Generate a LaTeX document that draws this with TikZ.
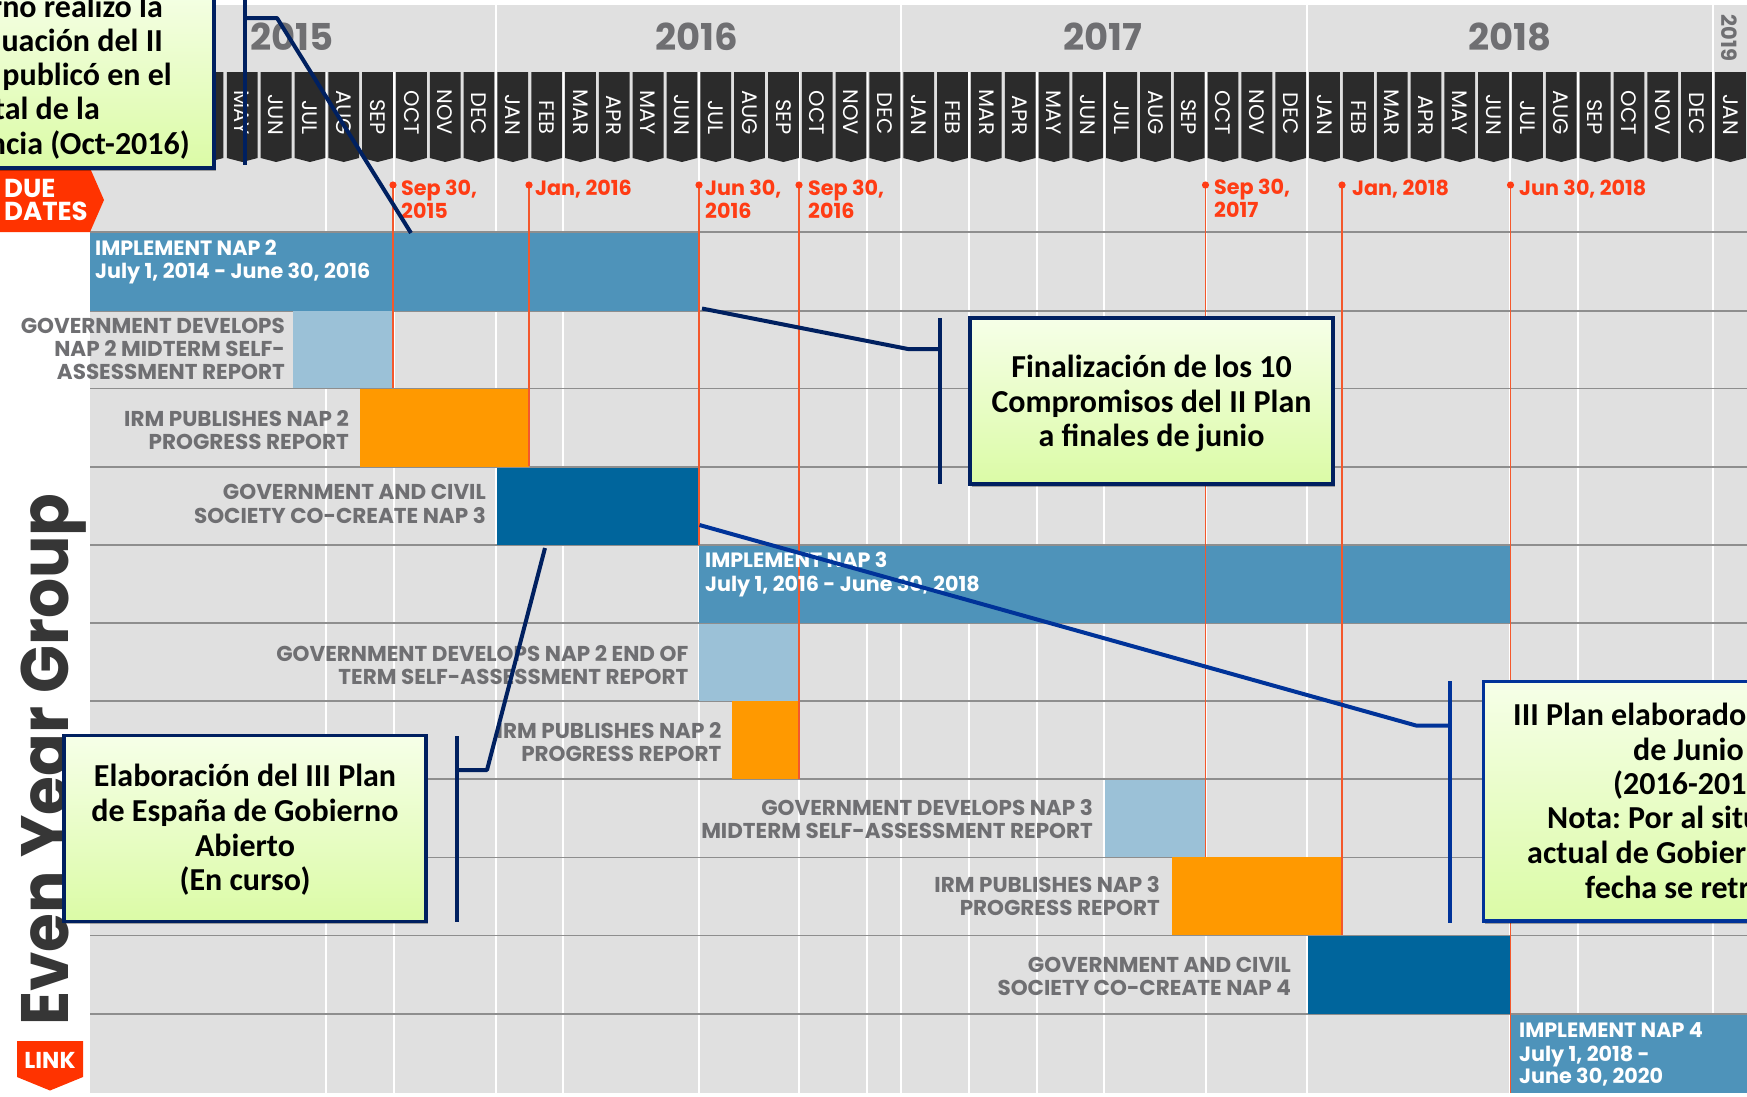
\documentclass[tikz,border=0pt]{standalone}
\usepackage{fontspec}
\setmainfont{Poppins}
\newfontfamily\calfont{Carlito}
\newfontfamily\sidefont[FakeStretch=0.94]{Poppins}
\usetikzlibrary{shadows}
\definecolor{bggrey}{HTML}{E0E0E0}
\definecolor{rowline}{HTML}{8E8E8E}
\definecolor{midblue}{HTML}{4E93BA}
\definecolor{lightblue}{HTML}{9BC1D7}
\definecolor{darkblue}{HTML}{00659C}
\definecolor{orangebar}{HTML}{FF9900}
\definecolor{redline}{HTML}{F4582C}
\definecolor{redtext}{HTML}{FF3C14}
\definecolor{tagred}{HTML}{FF3300}
\definecolor{labelgrey}{HTML}{6F6F72}
\definecolor{tabdark}{HTML}{2B2B2B}
\definecolor{navy}{HTML}{002060}
\definecolor{royal}{HTML}{003399}
\definecolor{greentop}{HTML}{F6FFE8}
\definecolor{greenbot}{HTML}{DBFBA6}
\tikzset{
  lab/.style={anchor=base east,yshift=-7.5pt,inner sep=0pt,text=labelgrey,font=\fontsize{21.5}{24}\selectfont\bfseries},
  barlab/.style={anchor=base west,yshift=-7.3pt,inner sep=0pt,text=white,font=\fontsize{20.7}{24}\selectfont\bfseries},
  duelab/.style={anchor=base west,yshift=-7.2pt,inner sep=0pt,text=redtext,font=\fontsize{20.7}{24}\selectfont\bfseries},
  yearlab/.style={inner sep=0pt,text=labelgrey,font=\fontsize{37}{40}\selectfont\bfseries},
  monthlab/.style={rotate=-90,anchor=east,inner sep=0pt,text=white,font=\fontsize{21}{22}\selectfont},
  gbox/.style={draw=navy,line width=3.5pt,top color=greentop,bottom color=greenbot,inner sep=0pt,anchor=north west,
    drop shadow={shadow xshift=2pt,shadow yshift=-3pt,opacity=.3,fill=black}},
  boxtext/.style={anchor=base,yshift=-10pt,inner sep=0pt,text=black,font=\calfont\fontsize{32}{35}\selectfont\bfseries\frenchspacing},
  conn/.style={line width=4pt,color=navy},
  connb/.style={line width=4pt,color=royal},
  redl/.style={line width=1.8pt,color=redline},
}
\newcommand{\tabm}[1]{\fill[tabdark] (#1-15.4,72) -- (#1+15.4,72) -- (#1+15.4,158) -- (#1,162) -- (#1-15.4,158) -- cycle;}
\newcommand{\monthtab}[3]{\tabm{#2}\node[monthlab] (#3) at (#2,135) {#1};}
\begin{document}
\begin{tikzpicture}[x=1pt,y=-1pt]
\useasboundingbox (0,0) rectangle (1747,1096);
\clip (0,0) rectangle (1747,1096);
\fill[white] (0,0) rectangle (1747,1096);
\fill[bggrey] (90,5) rectangle (1747,1093);
% vertical white rules
\foreach \x in {496,901,1307,1713} \draw[white,line width=1.6pt] (\x,5) -- (\x,1093);
\foreach \x in {326,394,563,699,799,867,969,1037,1104,1206,1510,1578} \draw[white,line width=1.6pt] (\x,72) -- (\x,1093);
% row rules
\foreach \y in {232,311,388.5,467,545,623,701,779,857.5,935.5,1014} \draw[rowline,line width=1.2pt] (90,\y) -- (1747,\y);
% bars
\fill[midblue] (90,232.5) rectangle (699,310.5);
\fill[lightblue] (292.5,311) rectangle (393,388);
\fill[orangebar] (360,389) rectangle (529,466.5);
\fill[darkblue] (497,467.5) rectangle (699,545);
\fill[midblue] (699,545.5) rectangle (1511,623);
\fill[lightblue] (699,623.5) rectangle (799,701);
\fill[orangebar] (732,701) rectangle (800,779);
\fill[lightblue] (1105,779.5) rectangle (1205.5,857);
\fill[orangebar] (1172,857) rectangle (1342,935);
\fill[darkblue] (1308,936) rectangle (1510,1014);
\fill[midblue] (1511,1014.5) rectangle (1747,1093);
% red due-date lines
\foreach \x/\b in {393/388,529/466,699/545,799/779,1205.5/857,1342/935,1510.5/1093}{
  \draw[redl] (\x,185) -- (\x,\b);
  \fill[redtext] (\x,185) circle (3.6pt);
}
% due-date labels
\node[duelab] (d1a) at (401,188) {Sep 30,};
\node[duelab] (d1b) at (401,211) {2015};
\node[duelab] (d2) at (535,188) {Jan, 2016};
\node[duelab] (d3a) at (705,188) {Jun 30,};
\node[duelab] (d3b) at (705,211) {2016};
\node[duelab] (d4a) at (808,188) {Sep 30,};
\node[duelab] (d4b) at (808,211) {2016};
\node[duelab] (d5a) at (1214,187) {Sep 30,};
\node[duelab] (d5b) at (1214,210) {2017};
\node[duelab] (d6) at (1352,188) {Jan, 2018};
\node[duelab] (d7) at (1519,188) {Jun 30, 2018};
% bar labels
\node[barlab] (b1a) at (95,248.5) {IMPLEMENT NAP 2};
\node[barlab] (b1b) at (95,271) {July 1, 2014 - June 30, 2016};
\node[barlab] (b2a) at (705,560.5) {IMPLEMENT NAP 3};
\node[barlab] (b2b) at (705,584) {July 1, 2016 - June 30, 2018};
\node[barlab] (b3a) at (1519,1030.5) {IMPLEMENT NAP 4};
\node[barlab] (b3b) at (1519,1054) {July 1, 2018 -};
\node[barlab] (b3c) at (1519,1076.5) {June 30, 2020};
% row labels
\node[lab] (l1a) at (285,325.5) {GOVERNMENT DEVELOPS};
\node[lab] (l1b) at (285,348.5) {NAP 2 MIDTERM SELF-};
\node[lab] (l1c) at (285,371.5) {ASSESSMENT REPORT};
\node[lab] (l2a) at (349,419) {IRM PUBLISHES NAP 2};
\node[lab] (l2b) at (349,442) {PROGRESS REPORT};
\node[lab] (l3a) at (486,491.5) {GOVERNMENT AND CIVIL};
\node[lab] (l3b) at (486,516) {SOCIETY CO-CREATE NAP 3};
\node[lab] (l4a) at (688.5,654) {GOVERNMENT DEVELOPS NAP 2 END OF};
\node[lab] (l4b) at (688.5,677) {TERM SELF-ASSESSMENT REPORT};
\node[lab] (l5a) at (721.5,731) {IRM PUBLISHES NAP 2};
\node[lab] (l5b) at (721.5,754) {PROGRESS REPORT};
\node[lab] (l6a) at (1093,808) {GOVERNMENT DEVELOPS NAP 3};
\node[lab] (l6b) at (1093,830.5) {MIDTERM SELF-ASSESSMENT REPORT};
\node[lab] (l7a) at (1160,885) {IRM PUBLISHES NAP 3};
\node[lab] (l7b) at (1160,908) {PROGRESS REPORT};
\node[lab] (l8a) at (1291,965) {GOVERNMENT AND CIVIL};
\node[lab] (l8b) at (1291,988) {SOCIETY CO-CREATE NAP 4};
% years
\node[yearlab] (y15) at (292,37) {2015};
\node[yearlab] (y16) at (697,37) {2016};
\node[yearlab] (y17) at (1103,37) {2017};
\node[yearlab] (y18) at (1510,37) {2018};
\node[inner sep=0pt,text=labelgrey,rotate=-90,font=\fontsize{21}{22}\selectfont\bfseries] (y19) at (1729,38) {2019};
% month tabs
\tabm{208}
\foreach \m [count=\i from 4] in {MAY,JUN,JUL,AUG,SEP,OCT,NOV,DEC,JAN,FEB,MAR,APR,MAY,JUN,JUL,AUG,SEP,OCT,NOV,DEC,JAN,FEB,MAR,APR,MAY,JUN,JUL,AUG,SEP,OCT,NOV,DEC,JAN,FEB,MAR,APR,MAY,JUN,JUL,AUG,SEP,OCT,NOV,DEC,JAN}{
  \pgfmathsetmacro{\cx}{107+33.82*\i}
  \monthtab{\m}{\cx}{m\i}
}
% side title and tags
\node[rotate=90,anchor=base west,inner sep=0pt,text=tabdark!95,font=\sidefont\fontsize{67}{70}\selectfont\bfseries] (side) at (68,1026) {Even Year Group};
\fill[tagred] (0,168) -- (90,168) -- (104,200) -- (90,232) -- (0,232) -- cycle;
\node[anchor=west,inner sep=0pt,text=white,font=\fontsize{26}{28}\selectfont\bfseries] (due1) at (4,188) {DUE};
\node[anchor=west,inner sep=0pt,text=white,font=\fontsize{26}{28}\selectfont\bfseries] (due2) at (4,211) {DATES};
\fill[tagred] (17,1041) -- (83,1041) -- (83,1077) -- (50,1090.5) -- (17,1077) -- cycle;
\node[inner sep=0pt,text=white,font=\fontsize{23}{24}\selectfont\bfseries] (link) at (50,1060) {LINK};
% callout boxes
\node[gbox,minimum width=242pt,minimum height=186pt] (boxa) at (-30,-20) {};
\node[gbox,minimum width=363pt,minimum height=166pt] (boxb) at (968,316) {};
\node[gbox,minimum width=362pt,minimum height=186pt] (boxc) at (62,733.5) {};
\node[gbox,draw=royal,minimum width=300pt,minimum height=239.5pt] (boxd) at (1481.5,679.5) {};
% box texts
\begin{scope}[every node/.append style={boxtext}]
\node[anchor=base east] (ta1) at (163,7) {rno realizó la};
\node[anchor=base east] (ta2) at (163,41) {uación del II};
\node[anchor=base east] (ta3) at (172,75) {publicó en el};
\node[anchor=base east] (ta4) at (100,109) {tal de la};
\node[anchor=base east] (ta5) at (190,144) {ncia (Oct-2016)};
\node (tb1) at (1151.5,367) {Finalización de los 10};
\node (tb2) at (1151.5,402) {Compromisos del II Plan};
\node (tb3) at (1151.5,436) {a finales de junio};
\node (tc1) at (245,776) {Elaboración del III Plan};
\node (tc2) at (245,811) {de España de Gobierno};
\node (tc3) at (245,846) {Abierto};
\node (tc4) at (245,880) {(En curso)};
\node[anchor=base west] (td1) at (1513,715) {III Plan elaborado};
\node[anchor=base west] (td2) at (1633,750) {de Junio};
\node[anchor=base west] (td3) at (1613,784) {(2016-201};
\node[anchor=base west] (td4) at (1547,818) {Nota: Por al situ};
\node[anchor=base west] (td5) at (1527,853) {actual de Gobier};
\node[anchor=base west] (td6) at (1585,888) {fecha se retr};
\end{scope}
% connectors
\coordinate (a0) at (245,0); \coordinate (a1) at (245,165); \coordinate (a2) at (245,18); \coordinate (a3) at (277,18); \coordinate (a4) at (411,233);
\draw[conn] (a0) -- (a1);
\draw[conn,line join=round] (a2) -- (a3) -- (a4);
\coordinate (b0) at (939.5,318); \coordinate (b1) at (939.5,484); \coordinate (b2) at (939.5,349); \coordinate (b3) at (908,349); \coordinate (b4) at (702,308.5);
\draw[conn] (b0) -- (b1);
\draw[conn,line join=round] (b2) -- (b3) -- (b4);
\coordinate (c0) at (456.5,736); \coordinate (c1) at (456.5,922); \coordinate (c2) at (456.5,770); \coordinate (c3) at (487,770); \coordinate (c4) at (545,548);
\draw[conn] (c0) -- (c1);
\draw[conn,line join=round] (c2) -- (c3) -- (c4);
\coordinate (e0) at (1450,681); \coordinate (e1) at (1450,923); \coordinate (e2) at (1450,725.5); \coordinate (e3) at (1416,725.5); \coordinate (e4) at (699.5,525);
\draw[connb] (e0) -- (e1);
\draw[connb,line join=round] (e2) -- (e3) -- (e4);
\end{tikzpicture}
\end{document}
